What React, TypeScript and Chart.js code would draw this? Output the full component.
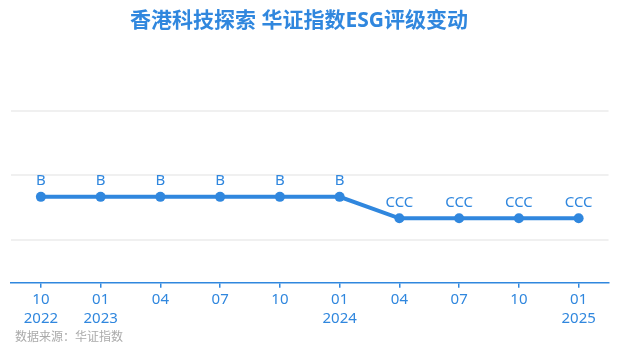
import React, { useEffect, useRef } from "react";
import { Chart, registerables } from "chart.js";

Chart.register(...registerables);

const monthLabels = ["10", "01", "04", "07", "10", "01", "04", "07", "10", "01"];
const yearLabels = ["2022", "2023", "", "", "", "2024", "", "", "", "2025"];
const ratings = ["B", "B", "B", "B", "B", "B", "CCC", "CCC", "CCC", "CCC"];
const ratingScale = ["C", "CC", "CCC", "B", "BB", "BBB", "A", "AA", "AAA"];
const gridTicks = [2, 5, 8];

const TITLE = "香港科技探索 华证指数ESG评级变动";
const SOURCE = "数据来源：华证指数";
const BLUE = "#3087de";
const FONT = '"Noto Sans", "Noto Sans CJK SC", sans-serif';

const ratingValues = ratings.map((r) => ratingScale.indexOf(r) + 1);
const xLabels = monthLabels.map((m, i) => (yearLabels[i] ? [m, yearLabels[i]] : [m]));

const overlayPlugin = {
  id: "overlay",
  afterDatasetsDraw(chart: any) {
    const ctx = chart.ctx;
    const meta = chart.getDatasetMeta(0);
    ctx.save();
    ctx.fillStyle = BLUE;
    ctx.font = `15px ${FONT}`;
    ctx.textAlign = "center";
    ctx.textBaseline = "middle";
    meta.data.forEach((pt: any, i: number) => {
      ctx.fillText(ratings[i], pt.x, pt.y - 16);
    });
    ctx.restore();
  },
  afterDraw(chart: any) {
    const ctx = chart.ctx;
    ctx.save();
    ctx.fillStyle = BLUE;
    ctx.font = `bold 21px ${FONT}`;
    ctx.textAlign = "center";
    ctx.textBaseline = "middle";
    ctx.fillText(TITLE, 291, 13);
    ctx.fillStyle = "#aaaaaa";
    ctx.font = `12px ${FONT}`;
    ctx.textAlign = "left";
    ctx.fillText(SOURCE, 7, 330);
    ctx.restore();
  },
};

export default function App() {
  const ref = useRef<HTMLCanvasElement>(null);
  useEffect(() => {
    if (!ref.current) return;
    const chart = new Chart(ref.current, {
      type: "line",
      data: {
        labels: xLabels,
        datasets: [
          {
            data: ratingValues,
            borderColor: BLUE,
            backgroundColor: BLUE,
            borderWidth: 4,
            pointRadius: 5,
            pointBackgroundColor: BLUE,
            pointBorderColor: BLUE,
            pointBorderWidth: 0,
            tension: 0,
          },
        ],
      },
      options: {
        animation: false,
        responsive: false,
        layout: { autoPadding: false, padding: { top: 103, left: 3, right: 1.5, bottom: 16.9 } },
        plugins: { legend: { display: false }, title: { display: false }, tooltip: { enabled: false } },
        scales: {
          x: {
            offset: true,
            border: { display: true, color: BLUE, width: 1.5 },
            grid: { display: true, drawOnChartArea: false, drawTicks: true, tickLength: 5, color: BLUE, lineWidth: 1.5, offset: false },
            ticks: { color: BLUE, font: { size: 15, family: FONT, lineHeight: 1.28 }, padding: 2, maxRotation: 0, autoSkip: false },
          },
          y: {
            min: 0,
            max: 8,
            afterBuildTicks: (axis: any) => {
              axis.ticks = gridTicks.map((v) => ({ value: v }));
            },
            border: { display: false },
            grid: { color: "#f0f0f0", lineWidth: 2, drawTicks: false },
            ticks: { display: false },
          },
        },
      },
      plugins: [overlayPlugin],
    });
    return () => chart.destroy();
  }, []);
  return <canvas ref={ref} width={602} height={339} style={{ display: "block" }} />;
}
